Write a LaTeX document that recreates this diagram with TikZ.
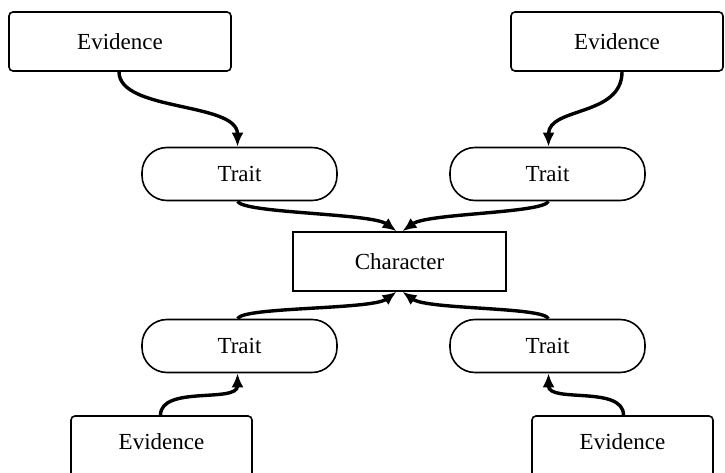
\documentclass[tikz,border=0pt]{standalone}
\usepackage{fontspec}
\setmainfont{Liberation Serif}
\usetikzlibrary{arrows.meta}
\begin{document}
\begin{tikzpicture}[x=1pt,y=-1pt,
  evbox/.style={draw, line width=1.6pt, rounded corners=4pt, inner sep=0pt,
    font=\fontsize{23}{27}\selectfont},
  traitbox/.style={draw, line width=1.6pt, rounded corners=25pt, inner sep=0pt,
    minimum width=195pt, minimum height=53pt, font=\fontsize{23}{27}\selectfont},
  charbox/.style={draw, line width=1.6pt, inner sep=0pt,
    minimum width=213pt, minimum height=59pt, font=\fontsize{23}{27}\selectfont},
  lbl/.style={font=\fontsize{23}{27}\selectfont},
  conn/.style={line width=3.4pt, -{Latex[length=14pt,width=12pt]}}]
\useasboundingbox (0,0) rectangle (725,473);
\clip (0,0) rectangle (725,473);
% nodes
\node[evbox, minimum width=222pt, minimum height=59pt] (ev1) at (120,41.5) {Evidence};
\node[evbox, minimum width=212pt, minimum height=59pt] (ev2) at (617,41.5) {Evidence};
\node[traitbox] (tr1) at (239.5,174) {Trait};
\node[traitbox] (tr2) at (547.5,174) {Trait};
\node[charbox] (ch) at (399.5,261.5) {Character};
\node[traitbox] (tr3) at (239.5,346) {Trait};
\node[traitbox] (tr4) at (547.5,346) {Trait};
\node[evbox, minimum width=181pt, minimum height=72pt] (ev3) at (161.5,452) {};
\node[evbox, minimum width=181pt, minimum height=72pt] (ev4) at (622.5,452) {};
\node[lbl] at (161.5,441.5) {Evidence};
\node[lbl] at (622.5,441.5) {Evidence};
% connectors
\draw[conn] ([xshift=-1pt]ev1.south) .. controls +(0,40) and +(0,-45) .. ([xshift=-2pt]tr1.north);
\draw[conn] ([xshift=5pt]ev2.south) .. controls +(0,45) and +(0,-40) .. ([xshift=1pt]tr2.north);
\draw[conn] ([xshift=-2pt]tr1.south) .. controls +(5,12) and +(-25,-18) .. ([xshift=-3pt]ch.north);
\draw[conn] ([xshift=1pt]tr2.south) .. controls +(-5,12) and +(25,-18) .. ([xshift=3pt]ch.north);
\draw[conn] ([xshift=-2pt]tr3.north) .. controls +(5,-12) and +(-25,18) .. ([xshift=-3pt]ch.south);
\draw[conn] ([xshift=1pt]tr4.north) .. controls +(-5,-12) and +(25,18) .. ([xshift=3pt]ch.south);
\draw[conn] ([xshift=-1pt]ev3.north) .. controls +(0,-30) and +(0,30) .. ([xshift=-2pt]tr3.south);
\draw[conn] ([xshift=1pt]ev4.north) .. controls +(0,-30) and +(0,30) .. ([xshift=1pt]tr4.south);
\end{tikzpicture}
\end{document}
